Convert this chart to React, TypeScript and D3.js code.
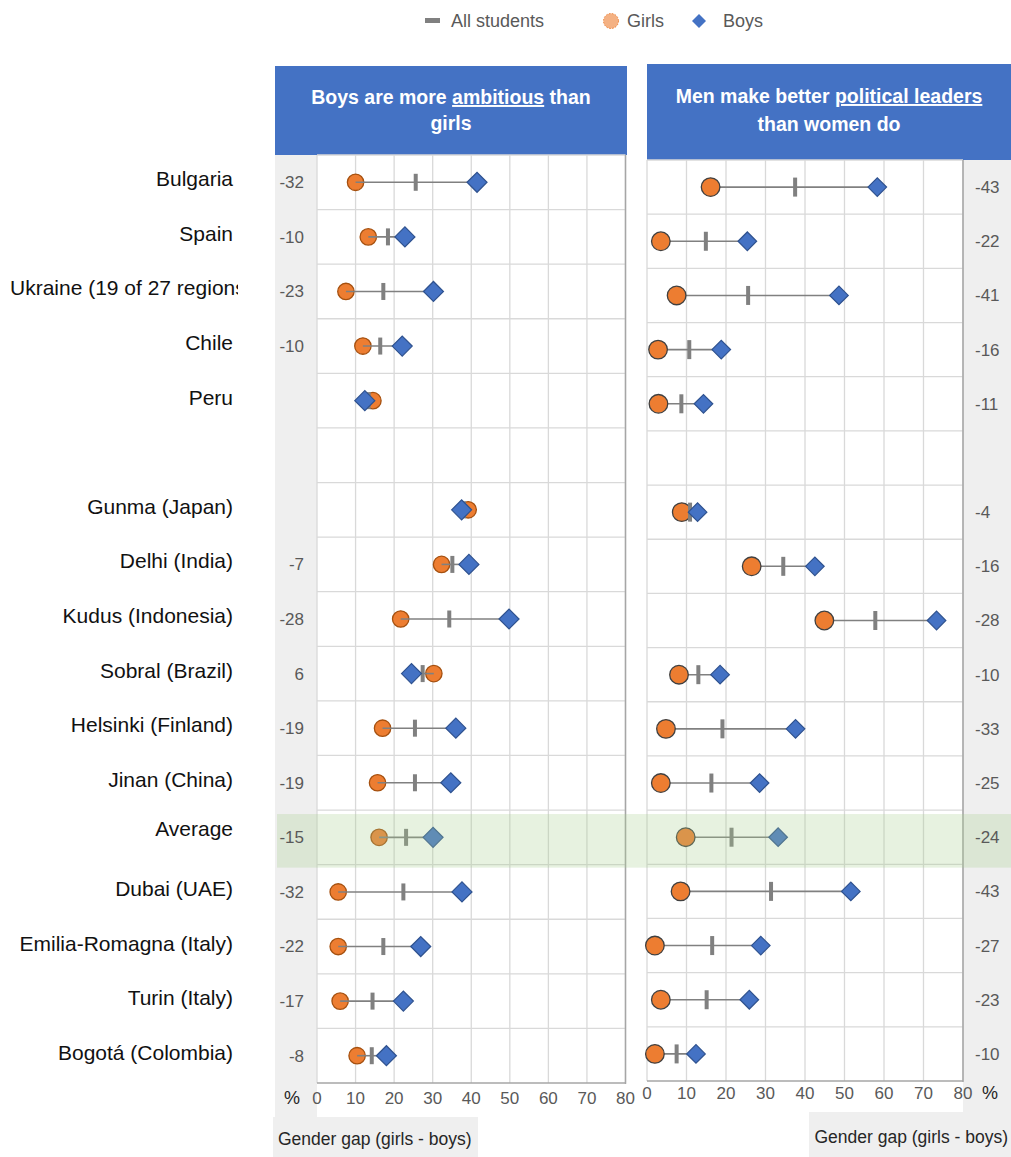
import React from 'react';
import * as d3 from 'd3';

const categories = [
  'Bulgaria', 'Spain', 'Ukraine (19 of 27 regions)', 'Chile', 'Peru', '',
  'Gunma (Japan)', 'Delhi (India)', 'Kudus (Indonesia)', 'Sobral (Brazil)',
  'Helsinki (Finland)', 'Jinan (China)', 'Average', 'Dubai (UAE)',
  'Emilia-Romagna (Italy)', 'Turin (Italy)', 'Bogotá (Colombia)',
];

// "Boys are more ambitious than girls" (% agreeing)
const ambitionGirls = [10, 13.3, 7.5, 11.9, 14.5, null, 39.2, 32.3, 21.7, 30.3, 17, 15.7, 16.1, 5.5, 5.5, 6, 10.4];
const ambitionAll = [25.6, 18.4, 17.2, 16.4, 13.4, null, 38.1, 35.1, 34.3, 27.4, 25.4, 25.4, 23.1, 22.4, 17.2, 14.4, 14.2];
const ambitionBoys = [41.5, 22.8, 30.2, 22.1, 12.4, null, 37.5, 39.4, 49.8, 24.5, 36, 34.7, 30.1, 37.6, 26.9, 22.4, 18];
const ambitionGap = ['-32', '-10', '-23', '-10', '', '', '', '-7', '-28', '6', '-19', '-19', '-15', '-32', '-22', '-17', '-8'];

// "Men make better political leaders than women do" (% agreeing)
const leadersGirls = [16.1, 3.5, 7.5, 2.8, 2.9, null, 8.8, 26.5, 44.9, 8.1, 4.8, 3.5, 9.8, 8.5, 2, 3.5, 2];
const leadersAll = [37.5, 14.9, 25.6, 10.7, 8.7, null, 10.9, 34.5, 57.8, 13, 19.1, 16.3, 21.4, 31.4, 16.5, 15.1, 7.5];
const leadersBoys = [58.3, 25.4, 48.6, 18.8, 14.3, null, 12.8, 42.5, 73.3, 18.5, 37.6, 28.5, 33.2, 51.6, 28.8, 25.9, 12.4];
const leadersGap = ['-43', '-22', '-41', '-16', '-11', '', '-4', '-16', '-28', '-10', '-33', '-25', '-24', '-43', '-27', '-23', '-10'];

const xTicks = [0, 10, 20, 30, 40, 50, 60, 70, 80];

const FONT = '"Liberation Sans", Arial, sans-serif';
const ORANGE = '#ED7D31';
const BLUE = '#4472C4';
const GREY = '#808080';
const GRID = '#d9d9d9';

const rowIds = categories.map((_, i) => String(i));

const Panel = ({ girls, all, boys, x, y, circleR, circleStroke, diamond, tickH, lineOnTop }) => {
  const [x0, x1] = x.range();
  const [y0, y1] = y.range();
  return (
    <g>
      {xTicks.map(t => (
        <line key={'v' + t} x1={x(t)} x2={x(t)} y1={y0} y2={y1} stroke={GRID} strokeWidth={1.3} />
      ))}
      {rowIds.map(id => (
        <line key={'h' + id} x1={x0} x2={x1} y1={y(id)} y2={y(id)} stroke={GRID} strokeWidth={1.3} />
      ))}
      <line x1={x1} x2={x1} y1={y0} y2={y1 + 1} stroke="#a6a6a6" strokeWidth={1.5} />
      <line x1={x0} x2={x1} y1={y1} y2={y1} stroke="#a6a6a6" strokeWidth={1.5} />
      {rowIds.map((id, i) => {
        if (girls[i] == null) return null;
        const cy = y(id) + y.bandwidth() / 2;
        const gx = x(girls[i]);
        const bx = x(boys[i]);
        const ax = x(all[i]);
        const conn = <line x1={gx} x2={bx} y1={cy} y2={cy} stroke={GREY} strokeWidth={1.6} />;
        const circ = <circle cx={gx} cy={cy} r={circleR} fill={ORANGE} stroke={circleStroke} strokeWidth={1.3} />;
        return (
          <g key={'m' + id}>
            {lineOnTop ? circ : conn}
            {lineOnTop ? conn : circ}
            <rect x={ax - 2} y={cy - tickH / 2} width={4} height={tickH} fill={GREY} />
            <path
              d={`M${bx - diamond},${cy} L${bx},${cy - diamond} L${bx + diamond},${cy} L${bx},${cy + diamond} Z`}
              fill={BLUE}
              stroke="#2F528F"
              strokeWidth={1.2}
            />
          </g>
        );
      })}
    </g>
  );
};

const App = () => {
  const width = 1011;
  const height = 1157;

  const xL = d3.scaleLinear().domain([0, 80]).range([317, 625.5]);
  const yL = d3.scaleBand().domain(rowIds).range([155, 1083]);
  const xR = d3.scaleLinear().domain([0, 80]).range([647, 963]);
  const yR = d3.scaleBand().domain(rowIds).range([160, 1081]);

  const avgIdx = String(categories.indexOf('Average'));

  return (
    <svg
      width={width}
      height={height}
      style={{ position: 'absolute', left: 0, top: 0, display: 'block', background: '#fff' }}
      fontFamily={FONT}
    >
      <defs>
        <clipPath id="labelClip">
          <rect x={0} y={0} width={238} height={height} />
        </clipPath>
      </defs>

      {/* legend */}
      <g>
        <rect x={425} y={18} width={15} height={5} fill={GREY} />
        <text x={451} y={27} fontSize={18} fill="#595959">All students</text>
        <circle cx={611} cy={21} r={7.5} fill="#F4B183" stroke={ORANGE} strokeWidth={1} strokeDasharray="1.5,1.5" />
        <text x={627} y={27} fontSize={18} fill="#595959">Girls</text>
        <path d="M699,14 L706,21 L699,28 L692,21 Z" fill={BLUE} />
        <text x={723} y={27} fontSize={18} fill="#595959">Boys</text>
      </g>

      {/* headers */}
      <rect x={275} y={66} width={352} height={89} fill={BLUE} />
      <text x={451} y={104} textAnchor="middle" fontSize={19.5} fontWeight="bold" fill="#fff">
        Boys are more <tspan textDecoration="underline">ambitious</tspan> than
      </text>
      <text x={451} y={130} textAnchor="middle" fontSize={19.5} fontWeight="bold" fill="#fff">girls</text>

      <rect x={647} y={64} width={364} height={96} fill={BLUE} />
      <text x={829} y={103} textAnchor="middle" fontSize={19.5} fontWeight="bold" fill="#fff">
        Men make better <tspan textDecoration="underline">political leaders</tspan>
      </text>
      <text x={829} y={131} textAnchor="middle" fontSize={19.5} fontWeight="bold" fill="#fff">than women do</text>

      {/* grey side strips */}
      <rect x={275} y={155} width={42} height={962} fill="#efefef" />
      <rect x={273} y={1117} width={205} height={40} fill="#efefef" />
      <rect x={963} y={160} width={48} height={952} fill="#efefef" />
      <rect x={809} y={1112} width={202} height={45} fill="#efefef" />

      <Panel
        girls={ambitionGirls} all={ambitionAll} boys={ambitionBoys}
        x={xL} y={yL} circleR={8.2} circleStroke="#A5500F" diamond={10} tickH={17} lineOnTop
      />
      <Panel
        girls={leadersGirls} all={leadersAll} boys={leadersBoys}
        x={xR} y={yR} circleR={9.3} circleStroke="#404040" diamond={9.3} tickH={19} lineOnTop={false}
      />

      {/* average highlight */}
      <rect
        x={277}
        y={yL(avgIdx) + 4}
        width={width - 277}
        height={yL.bandwidth() - 1}
        fill="#A9D18E"
        opacity={0.28}
      />

      {/* category labels; the long one overflows its box and is clipped at the right */}
      <g clipPath="url(#labelClip)">
        {categories.map((c, i) => {
          const long = c.length > 22;
          const cy = yL(String(i)) + yL.bandwidth() / 2 - (c === 'Average' ? 8 : 3);
          return (
            <text
              key={'c' + i}
              transform={`translate(${long ? 10 : 233},${cy}) scale(1.05,1)`}
              dy="0.35em"
              textAnchor={long ? 'start' : 'end'}
              fontSize={20}
              fill="#111"
            >
              {c}
            </text>
          );
        })}
      </g>

      {/* gap values */}
      {ambitionGap.map((g, i) => (
        <text key={'gl' + i} x={304} y={yL(String(i)) + yL.bandwidth() / 2} dy="0.35em"
          textAnchor="end" fontSize={17} fill="#595959">{g}</text>
      ))}
      {leadersGap.map((g, i) => (
        <text key={'gr' + i} x={975} y={yR(String(i)) + yR.bandwidth() / 2} dy="0.35em"
          fontSize={17} fill="#595959">{g}</text>
      ))}

      {/* x axis labels */}
      {xTicks.map(t => (
        <text key={'tl' + t} x={xL(t)} y={1098} dy="0.35em" textAnchor="middle" fontSize={17} fill="#595959">{t}</text>
      ))}
      {xTicks.map(t => (
        <text key={'tr' + t} x={xR(t)} y={1093} dy="0.35em" textAnchor="middle" fontSize={17} fill="#595959">{t}</text>
      ))}
      <text x={292} y={1098} dy="0.35em" textAnchor="middle" fontSize={18} fill="#262626">%</text>
      <text x={990} y={1093} dy="0.35em" textAnchor="middle" fontSize={18} fill="#262626">%</text>

      <text x={278} y={1145} fontSize={17.5} fill="#262626">Gender gap (girls - boys)</text>
      <text x={1008} y={1143} textAnchor="end" fontSize={17.5} fill="#262626">Gender gap (girls - boys)</text>
    </svg>
  );
};

export default App;
